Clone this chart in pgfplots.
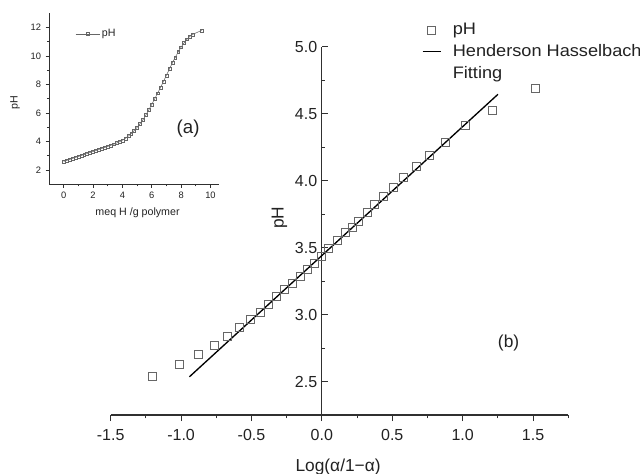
\documentclass[border=0pt]{standalone}
\usepackage{fontspec}
\setmainfont{Liberation Sans}
\newfontfamily\legfont[FakeStretch=1.09]{Liberation Sans}
\usepackage{pgfplots}
\pgfplotsset{compat=1.18}
\definecolor{markgray}{HTML}{666666}
\definecolor{axisgray}{HTML}{303030}
\definecolor{txt}{HTML}{222222}
\pgfplotsset{
  mlegend/.style={legend image code/.code={\draw[mark repeat=2,mark phase=2,##1] plot coordinates {(0pt,0pt) (6.75pt,0pt) (13.5pt,0pt)};}},
  llegend/.style={legend image code/.code={\draw[##1] (0pt,0pt) -- (13.5pt,0pt);}},
  ilegend/.style={legend image code/.code={\draw[mark repeat=2,mark phase=2,##1] plot coordinates {(0pt,0pt) (9pt,0pt) (18pt,0pt)};}},
}
\begin{document}
\begin{tikzpicture}[x=1pt,y=1pt]
\useasboundingbox (0,-355.5) rectangle (480,0);
% ---------------- main panel (b)
\begin{axis}[
  at={(83.0pt,-311.25pt)}, anchor=south west,
  scale only axis, width=343.2pt, height=276.2pt,
  xmin=-1.5, xmax=1.75, ymin=2.25, ymax=5.0,
  axis x line*=bottom, axis y line*=middle,
  hide obscured x ticks=false, hide obscured y ticks=false,
  axis line style={axisgray, line width=0.9pt, -},
  tick style={axisgray, line width=0.8pt},
  xtick align=outside, ytick align=inside,
  major tick length=4.5pt, minor tick length=2.6pt,
  xtick={-1.5,-1,-0.5,0,0.5,1,1.5},
  xticklabels={-1.5,-1.0,-0.5,0.0,0.5,1.0,1.5},
  minor xtick={-1.25,-0.75,-0.25,0.25,0.75,1.25,1.75},
  ytick={2.5,3,3.5,4,4.5,5},
  yticklabels={2.5,3.0,3.5,4.0,4.5,5.0},
  minor ytick={2.75,3.25,3.75,4.25,4.75},
  tick label style={font=\fontsize{12}{14}\selectfont, text=txt},
  xticklabel style={yshift=-3pt},
  xlabel={Log(α/1−α)},
  ylabel={pH},
  label style={font=\fontsize{13}{15}\selectfont, text=txt},
  xlabel style={at={(axis description cs:0.497,-0.14)}, anchor=center},
  ylabel style={at={(axis description cs:0.369,0.536)}, anchor=center},
  legend style={at={(axis description cs:0.6795,1.072)}, anchor=north west,
    draw=none, fill=none, inner sep=0pt, row sep=1.5pt,
    font=\legfont\fontsize{12.5}{15}\selectfont, text=txt,
    nodes={align=left, inner sep=2.2pt},
    /tikz/every odd column/.append style={column sep=6.5pt}},
  legend cell align=left,
  clip=false,
]
\addplot[only marks, mark=square, mark size=3pt, markgray,
  mark options={line width=0.6pt}, mlegend]
coordinates {
(-1.203,2.537) (-1.014,2.625) (-0.877,2.702) (-0.761,2.769) (-0.671,2.839)
(-0.586,2.906) (-0.511,2.965) (-0.440,3.018) (-0.378,3.078) (-0.321,3.134)
(-0.265,3.186) (-0.210,3.234) (-0.156,3.284) (-0.104,3.334) (-0.050,3.385)
(-0.004,3.438) (0.045,3.496) (0.109,3.555) (0.168,3.612) (0.215,3.654)
(0.263,3.699) (0.322,3.761) (0.376,3.824) (0.440,3.880) (0.511,3.950)
(0.582,4.022) (0.669,4.104) (0.764,4.192) (0.877,4.289) (1.019,4.413)
(1.208,4.525) (1.516,4.687)
};
\addlegendentry{pH}
\addplot[black, line width=1pt, llegend]
coordinates {(-0.941,2.535) (1.251,4.645)};
\addlegendentry{Henderson Hasselbach}
\addlegendimage{empty legend}
\addlegendentry{Fitting}
\node[font=\fontsize{13}{15}\selectfont, text=txt] at (axis cs:1.326,2.784) {(b)};
\end{axis}
% ---------------- inset panel (a)
\begin{axis}[
  at={(36.75pt,-138.2pt)}, anchor=south west,
  scale only axis, width=127.7pt, height=128.25pt,
  xmin=-1, xmax=10.6, ymin=1, ymax=13,
  axis lines*=left,
  axis line style={axisgray, line width=0.6pt, -},
  tick style={axisgray, line width=0.5pt},
  tick align=outside,
  major tick length=2.5pt, minor tick length=1.5pt,
  xtick={0,2,4,6,8,10}, minor xtick={1,3,5,7,9},
  ytick={2,4,6,8,10,12}, minor ytick={3,5,7,9,11},
  /pgf/number format/assume math mode=true,
  tick label style={font=\fontsize{7}{8}\selectfont, text=txt},
  xlabel={meq H /g polymer},
  ylabel={pH},
  label style={font=\fontsize{8}{9}\selectfont, text=txt},
  xlabel style={at={(axis description cs:0.52,-0.168)}, anchor=center},
  ylabel style={at={(axis description cs:-0.2,0.475)}, anchor=center},
  legend style={at={(axis description cs:0.153,0.879)}, anchor=west,
    draw=none, fill=none, inner sep=0pt,
    font=\fontsize{8}{9}\selectfont, text=txt, nodes={inner sep=1.5pt}},
  clip=false,
]
\addplot[markgray, line width=0.4pt, mark=square, mark size=1.1pt,
  mark options={line width=0.3pt}, ilegend]
coordinates {
(0.0,2.60) (0.2,2.67) (0.4,2.74) (0.6,2.81) (0.8,2.88) (1.0,2.95)
(1.2,3.02) (1.4,3.09) (1.6,3.16) (1.8,3.23) (2.0,3.30) (2.2,3.37)
(2.4,3.44) (2.6,3.51) (2.8,3.58) (3.0,3.65) (3.2,3.73) (3.4,3.81)
(3.6,3.89) (3.8,3.98) (4.0,4.09) (4.2,4.22) (4.4,4.38) (4.6,4.56)
(4.8,4.76) (5.0,4.99) (5.2,5.25) (5.4,5.52) (5.6,5.86) (5.8,6.22)
(6.0,6.60) (6.2,6.99) (6.4,7.39) (6.6,7.80) (6.8,8.22) (7.0,8.65)
(7.2,9.08) (7.4,9.50) (7.6,9.90) (7.8,10.28) (8.0,10.62) (8.2,10.92)
(8.4,11.18) (8.6,11.38) (8.8,11.52) (9.4,11.80)
};
\addlegendentry{pH}
\node[font=\fontsize{14}{16}\selectfont, text=txt] at (axis cs:8.48,4.92) {(a)};
\end{axis}
\end{tikzpicture}
\end{document}
